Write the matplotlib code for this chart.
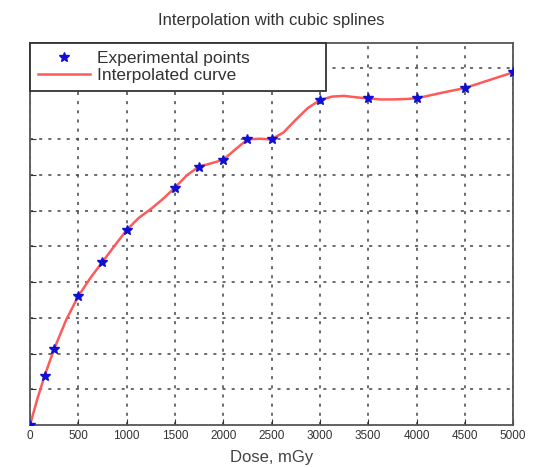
import numpy as np
import matplotlib.pyplot as plt

# experimental points (dose, response)
dose = [0, 150, 250, 500, 750, 1000, 1500, 1750, 2000, 2250, 2500, 3000, 3500, 4000, 4500, 5000]
resp = [0, 1.37, 2.13, 3.61, 4.57, 5.46, 6.65, 7.24, 7.43, 8.0, 8.0, 9.1, 9.15, 9.15, 9.44, 9.88]

# red curve
curve_x = [0, 75, 150, 250, 375, 500, 625, 750, 875, 1000, 1125, 1250, 1375, 1500, 1625,
           1750, 1875, 2000, 2125, 2250, 2375, 2500, 2625, 2750, 2875, 3000, 3125, 3250,
           3375, 3500, 3625, 3750, 3875, 4000, 4250, 4500, 4750, 5000]
curve_y = [0, 0.72, 1.37, 2.13, 2.95, 3.61, 4.12, 4.57, 5.02, 5.46, 5.8, 6.05, 6.33, 6.65, 7.0,
           7.24, 7.33, 7.43, 7.72, 8.0, 8.02, 8.0, 8.2, 8.55, 8.88, 9.1, 9.2, 9.22,
           9.18, 9.15, 9.12, 9.12, 9.13, 9.15, 9.3, 9.44, 9.66, 9.88]

x_ticks = [0, 500, 1000, 1500, 2000, 2500, 3000, 3500, 4000, 4500, 5000]
y_grid = [1, 2, 3, 4, 5, 6, 7, 8, 10]

plt.rcParams['font.family'] = ['Liberation Sans', 'DejaVu Sans']

fig = plt.figure(figsize=(5.41, 4.68), dpi=100)
ax = fig.add_axes([0.0555, 0.092, 0.893, 0.816])

ax.plot(dose, resp, '*', color='#1010d0', markersize=7, label='Experimental points', zorder=3)
ax.plot(curve_x, curve_y, '-', color='#ff5a5a', linewidth=1.8, label='Interpolated curve', zorder=2)

ax.set_xlim(0, 5000)
ax.set_ylim(0, 10.7)
ax.set_xticks(x_ticks)
ax.set_xticklabels([str(t) for t in x_ticks], fontsize=8.5, color='#333333')
ax.set_yticks(y_grid)
ax.set_yticklabels([])
ax.tick_params(direction='in', length=4, color='#333333')
ax.grid(True, linestyle=(0, (2, 4)), color='#444444', linewidth=1.1)
for s in ax.spines.values():
    s.set_color('#555555')
    s.set_linewidth(1.3)

ax.set_title('Interpolation with cubic splines', fontsize=12, color='#333333', pad=13)
ax.set_xlabel('Dose, mGy', fontsize=12, color='#444444', labelpad=6)

leg = ax.legend(loc='upper left', bbox_to_anchor=(0, 1, 0.613, 0), mode='expand',
                borderaxespad=0, fancybox=False, edgecolor='#333333', framealpha=1,
                fontsize=12.5, handlelength=3.0, labelspacing=0.1, borderpad=0.45,
                handletextpad=0.4)
leg.get_frame().set_linewidth(1.3)
for t in leg.get_texts():
    t.set_color('#333333')

plt.savefig('out.png', dpi=100)
